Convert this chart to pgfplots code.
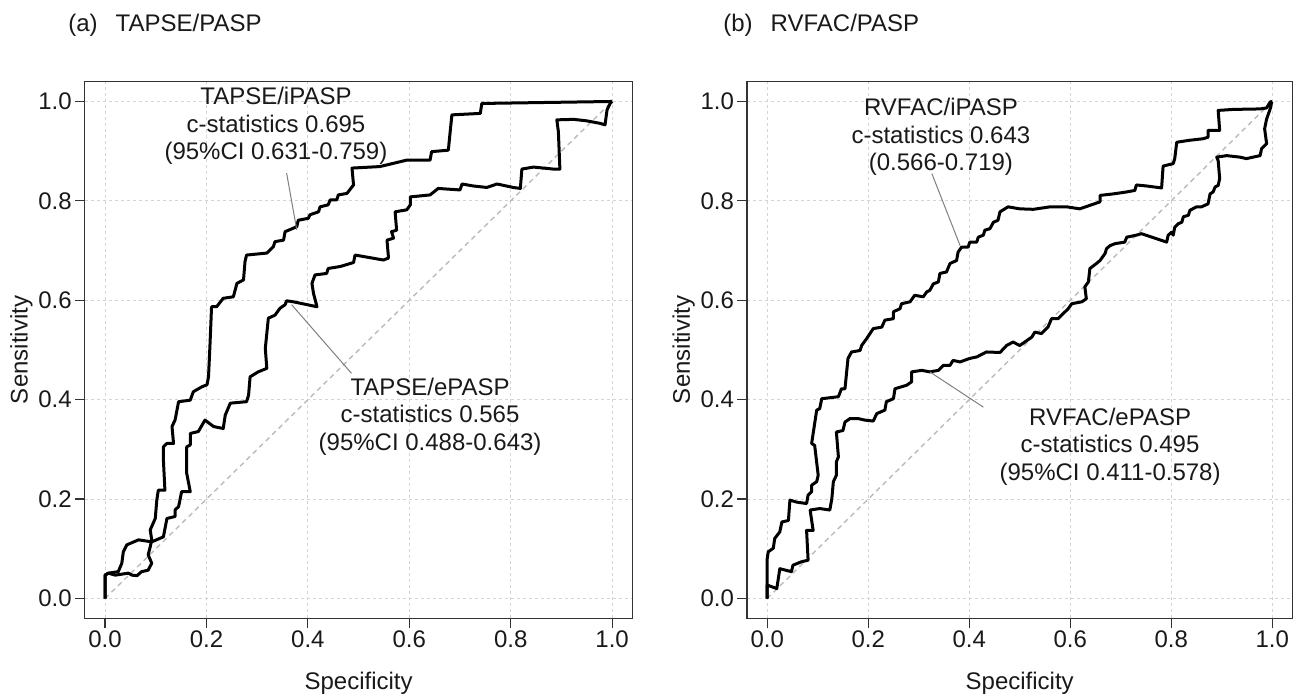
\documentclass[border=0pt]{standalone}
\usepackage{fontspec}
\setmainfont{Liberation Sans}
\usepackage{pgfplots}
\pgfplotsset{compat=1.18}
\definecolor{gridc}{HTML}{D4D4D4}
\definecolor{diagc}{HTML}{BBBBBB}
\definecolor{leadc}{HTML}{7F7F7F}
\definecolor{framec}{HTML}{333333}
\pgfplotsset{rocax/.style={
  scale only axis, height=268.4pt,
  xmin=-0.04,xmax=1.04,ymin=-0.04,ymax=1.04,
  xtick={0,0.2,0.4,0.6,0.8,1}, ytick={0,0.2,0.4,0.6,0.8,1},
  xticklabels={0.0,0.2,0.4,0.6,0.8,1.0}, yticklabels={0.0,0.2,0.4,0.6,0.8,1.0},
  tick align=outside, major tick length=5pt,
  xtick pos=bottom, ytick pos=left,
  tick style={framec, line width=0.6pt},
  grid=major, major grid style={gridc, dash pattern=on 1.5pt off 1.5pt, line width=0.45pt},
  axis line style={framec, line width=0.7pt},
  tick label style={font=\fontsize{12}{14}\selectfont, black!90},
  xticklabel style={yshift=2.5pt},
  yticklabel style={xshift=2pt},
  label style={font=\fontsize{12}{14}\selectfont, black!90},
  xlabel=Specificity, ylabel=Sensitivity,
  xlabel style={yshift=-5.5pt},
  ylabel shift=-4pt,
  anchor=south west,
}}
\begin{document}
\begin{tikzpicture}
\useasboundingbox (0,0) rectangle (648.5pt,349.5pt);
\node[anchor=base west, inner sep=0pt, font=\fontsize{12}{14}\selectfont, black!90] at (34pt,333.5pt) {(a)\hspace{9pt}TAPSE/PASP};
\node[anchor=base west, inner sep=0pt, font=\fontsize{12}{14}\selectfont, black!90] at (361.5pt,333.5pt) {(b)\hspace{9pt}RVFAC/PASP};
\begin{axis}[rocax, width=273.8pt, at={(42.4pt,40.3pt)}]
\addplot[diagc, line width=0.7pt, dash pattern=on 2.5pt off 2pt] coordinates {(0,0) (1,1)};
% TAPSE/iPASP
\addplot[black, line width=1.5pt, line join=round] coordinates {
(0,0) (0,0.024) (0,0.047) (0.0065,0.051) (0.020,0.047) (0.046,0.051) (0.053,0.047) (0.063,0.046) (0.072,0.054) (0.085,0.057) (0.092,0.071) (0.085,0.088) (0.089,0.104) (0.092,0.118) (0.089,0.138) (0.099,0.161) (0.102,0.198) (0.105,0.218) (0.118,0.218) (0.115,0.279) (0.115,0.305) (0.122,0.312) (0.135,0.312) (0.132,0.346) (0.138,0.359) (0.145,0.396) (0.168,0.399) (0.174,0.416) (0.191,0.426) (0.201,0.430) (0.204,0.446) (0.207,0.513) (0.210,0.587) (0.220,0.587) (0.233,0.604) (0.253,0.607) (0.260,0.634) (0.273,0.641) (0.276,0.678) (0.279,0.691) (0.319,0.695) (0.332,0.708) (0.335,0.718) (0.352,0.721) (0.355,0.738) (0.378,0.748) (0.381,0.761) (0.401,0.765) (0.404,0.772) (0.421,0.778) (0.424,0.788) (0.440,0.792) (0.444,0.802) (0.457,0.802) (0.460,0.812) (0.477,0.815) (0.490,0.832) (0.487,0.866) (0.542,0.869) (0.595,0.882) (0.641,0.882) (0.644,0.899) (0.677,0.902) (0.680,0.933) (0.684,0.973) (0.740,0.976) (0.743,0.996) (1,1)};
% TAPSE/ePASP
\addplot[black, line width=1.5pt, line join=round] coordinates {
(0,0) (0,0.047) (0.0065,0.051) (0.026,0.054) (0.033,0.071) (0.036,0.094) (0.043,0.108) (0.066,0.118) (0.092,0.114) (0.108,0.121) (0.115,0.124) (0.122,0.161) (0.138,0.165) (0.138,0.178) (0.145,0.185) (0.151,0.215) (0.168,0.215) (0.161,0.252) (0.161,0.305) (0.168,0.309) (0.168,0.332) (0.184,0.336) (0.197,0.359) (0.214,0.346) (0.233,0.342) (0.237,0.369) (0.247,0.393) (0.279,0.396) (0.283,0.409) (0.286,0.446) (0.302,0.456) (0.319,0.463) (0.316,0.503) (0.322,0.564) (0.335,0.570) (0.345,0.584) (0.355,0.591) (0.358,0.599) (0.371,0.597) (0.418,0.587) (0.411,0.614) (0.408,0.634) (0.414,0.651) (0.437,0.654) (0.440,0.664) (0.464,0.668) (0.490,0.676) (0.493,0.691) (0.549,0.681) (0.559,0.685) (0.556,0.721) (0.569,0.725) (0.565,0.738) (0.575,0.741) (0.572,0.778) (0.595,0.782) (0.602,0.792) (0.602,0.808) (0.641,0.812) (0.657,0.825) (0.700,0.822) (0.704,0.834) (0.726,0.830) (0.753,0.827) (0.773,0.834) (0.805,0.827) (0.819,0.825) (0.822,0.864) (0.845,0.868) (0.884,0.864) (0.897,0.864) (0.894,0.939) (0.891,0.963) (0.924,0.964) (0.950,0.961) (0.976,0.956) (0.986,0.953) (0.990,0.983) (0.996,0.996) (1,1)};
\draw[leadc, line width=0.5pt] (axis cs:0.358,0.856) -- (axis cs:0.378,0.742);
\draw[leadc, line width=0.5pt] (axis cs:0.368,0.591) -- (axis cs:0.486,0.453);
\node[align=center, font=\fontsize{12}{13.75}\selectfont, black!90] at (axis cs:0.337,0.951) {TAPSE/iPASP\\c-statistics 0.695\\(95\%CI 0.631-0.759)};
\node[align=center, font=\fontsize{12}{13.75}\selectfont, black!90] at (axis cs:0.641,0.366) {TAPSE/ePASP\\c-statistics 0.565\\(95\%CI 0.488-0.643)};
\end{axis}
\begin{axis}[rocax, width=272.7pt, at={(373.5pt,40.3pt)}]
\addplot[diagc, line width=0.7pt, dash pattern=on 2.5pt off 2pt] coordinates {(0,0) (1,1)};
% RVFAC/iPASP
\addplot[black, line width=1.5pt, line join=round] coordinates {
(0,0) (0,0.060) (0.0,0.080) (0.002,0.094) (0.012,0.101) (0.015,0.121) (0.025,0.134) (0.029,0.154) (0.042,0.157) (0.045,0.198) (0.058,0.194) (0.078,0.191) (0.081,0.208) (0.088,0.215) (0.088,0.228) (0.098,0.235) (0.101,0.248) (0.094,0.308) (0.088,0.312) (0.098,0.379) (0.104,0.382) (0.108,0.402) (0.141,0.406) (0.147,0.422) (0.154,0.422) (0.160,0.483) (0.167,0.496) (0.184,0.499) (0.187,0.509) (0.197,0.523) (0.210,0.543) (0.227,0.546) (0.233,0.560) (0.250,0.563) (0.250,0.577) (0.263,0.583) (0.266,0.593) (0.283,0.597) (0.292,0.610) (0.309,0.607) (0.316,0.617) (0.322,0.620) (0.329,0.633) (0.339,0.637) (0.342,0.654) (0.355,0.657) (0.362,0.674) (0.375,0.680) (0.378,0.697) (0.385,0.707) (0.398,0.707) (0.401,0.717) (0.415,0.717) (0.418,0.727) (0.428,0.731) (0.431,0.741) (0.441,0.744) (0.448,0.757) (0.457,0.761) (0.461,0.778) (0.477,0.788) (0.500,0.784) (0.527,0.783) (0.560,0.788) (0.593,0.788) (0.619,0.784) (0.639,0.791) (0.659,0.798) (0.659,0.811) (0.685,0.814) (0.712,0.818) (0.728,0.821) (0.731,0.832) (0.751,0.830) (0.781,0.826) (0.784,0.870) (0.804,0.875) (0.807,0.885) (0.811,0.918) (0.837,0.922) (0.863,0.925) (0.873,0.928) (0.873,0.942) (0.896,0.942) (0.893,0.982) (0.923,0.984) (0.976,0.985) (0.989,0.987) (0.996,0.999) (1,1)};
% RVFAC/ePASP
\addplot[black, line width=1.5pt, line join=round] coordinates {
(0,0) (0,0.027) (0.019,0.020) (0.025,0.060) (0.048,0.054) (0.051,0.067) (0.068,0.074) (0.081,0.077) (0.078,0.137) (0.091,0.137) (0.085,0.178) (0.104,0.181) (0.124,0.178) (0.128,0.201) (0.131,0.235) (0.137,0.248) (0.137,0.275) (0.141,0.285) (0.137,0.335) (0.150,0.338) (0.154,0.355) (0.164,0.362) (0.180,0.362) (0.193,0.359) (0.210,0.357) (0.217,0.372) (0.233,0.379) (0.236,0.396) (0.250,0.402) (0.253,0.422) (0.266,0.426) (0.276,0.429) (0.286,0.436) (0.286,0.456) (0.306,0.459) (0.322,0.456) (0.339,0.459) (0.349,0.469) (0.362,0.469) (0.368,0.479) (0.382,0.476) (0.401,0.483) (0.415,0.486) (0.434,0.496) (0.461,0.495) (0.474,0.509) (0.487,0.516) (0.500,0.509) (0.510,0.516) (0.524,0.526) (0.530,0.536) (0.543,0.533) (0.556,0.546) (0.563,0.563) (0.576,0.563) (0.586,0.573) (0.596,0.583) (0.603,0.593) (0.623,0.597) (0.632,0.603) (0.629,0.627) (0.636,0.637) (0.639,0.664) (0.652,0.674) (0.659,0.680) (0.669,0.694) (0.672,0.704) (0.679,0.710) (0.689,0.714) (0.708,0.717) (0.712,0.727) (0.731,0.731) (0.741,0.734) (0.791,0.717) (0.794,0.731) (0.801,0.737) (0.804,0.731) (0.807,0.747) (0.814,0.754) (0.821,0.757) (0.824,0.768) (0.834,0.771) (0.837,0.781) (0.850,0.788) (0.860,0.788) (0.873,0.794) (0.877,0.814) (0.883,0.818) (0.887,0.828) (0.893,0.831) (0.896,0.845) (0.893,0.881) (0.890,0.888) (0.910,0.891) (0.936,0.888) (0.949,0.885) (0.962,0.888) (0.976,0.891) (0.979,0.905) (0.989,0.915) (0.985,0.945) (0.989,0.965) (0.996,0.985) (0.999,0.999) (1,1)};
\draw[leadc, line width=0.5pt] (axis cs:0.326,0.855) -- (axis cs:0.382,0.710);
\draw[leadc, line width=0.5pt] (axis cs:0.322,0.456) -- (axis cs:0.428,0.385);
\node[align=center, font=\fontsize{12}{13.75}\selectfont, black!90] at (axis cs:0.344,0.928) {RVFAC/iPASP\\c-statistics 0.643\\(0.566-0.719)};
\node[align=center, font=\fontsize{12}{13.75}\selectfont, black!90] at (axis cs:0.679,0.306) {RVFAC/ePASP\\c-statistics 0.495\\(95\%CI 0.411-0.578)};
\end{axis}
\end{tikzpicture}
\end{document}
